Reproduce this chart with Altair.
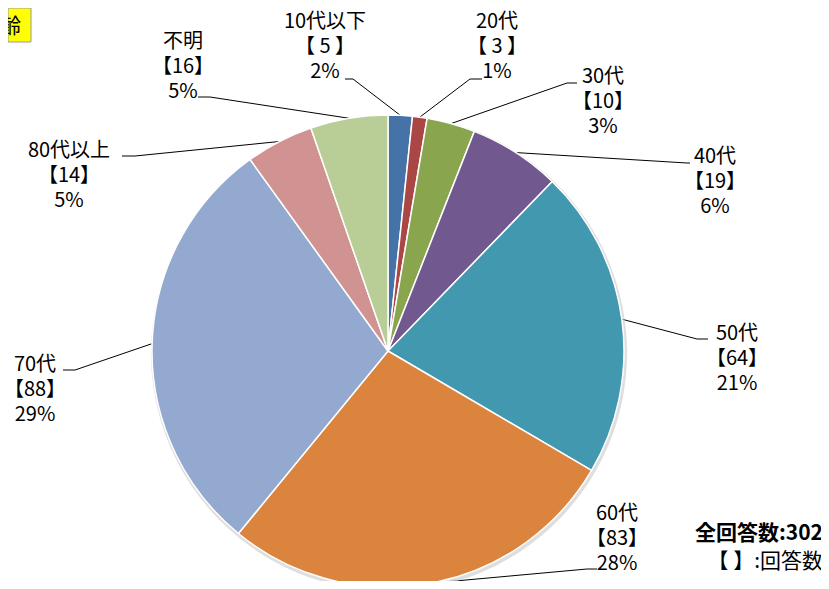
import math
import altair as alt
import pandas as pd

# ---- data ----
categories = ["10代以下", "20代", "30代", "40代", "50代", "60代", "70代", "80代以上", "不明"]
counts = [5, 3, 10, 19, 64, 83, 88, 14, 16]
pct_labels = ["2%", "1%", "3%", "6%", "21%", "28%", "29%", "5%", "5%"]
count_labels = ["【 5 】", "【 3 】", "【10】", "【19】", "【64】", "【83】", "【88】", "【14】", "【16】"]
total_label = "全回答数:302"
note_label = "【 】:回答数"
title_label = "年齢"

# ---- style / layout ----
colors = ["#4572A7", "#AA4643", "#89A54E", "#71588F", "#4198AF",
          "#DB843D", "#93A9CF", "#D19392", "#B9CD96"]
W, H = 813, 573
CX, CY, R = 380, 343, 236
FONT = "Noto Sans CJK JP"
# label block centre x, first-line y (chart pixel coords)
label_pos = [(317, 14), (489, 14), (595, 69), (707, 149), (729, 326),
             (609, 506), (27, 357), (61, 143), (175, 34)]
# leader line bend and end points
leader_pts = [((345, 71), (337, 71)), ((462, 71), (474, 71)), ((559, 75), (569, 75)),
              ((679, 155), (682, 155)), ((689, 331), (700, 331)), ((579, 561), (589, 561)),
              ((67, 362), (55, 362)), ((127, 148), (114, 148)), ((202, 89), (190, 89))]

total = sum(counts)
rows, lines = [], []
cum = 0
for i, (c, n) in enumerate(zip(categories, counts)):
    mid = (cum + n / 2) / total * 2 * math.pi
    cum += n
    lx, ly = label_pos[i]
    rows.append({"cat": c, "n": n, "idx": i,
                 "label": f"{c}\n{count_labels[i]}\n{pct_labels[i]}",
                 "lx": lx, "ly": ly})
    sx = CX + R * math.sin(mid)
    sy = CY - R * math.cos(mid)
    (bx, by), (ex, ey) = leader_pts[i]
    for k, (px, py) in enumerate([(sx, sy), (bx, by), (ex, ey)]):
        lines.append({"cat": c, "k": k, "px": px, "py": py})

df = pd.DataFrame(rows)
ldf = pd.DataFrame(lines)

xs = alt.Scale(domain=[0, W], nice=False, zero=False)
ys = alt.Scale(domain=[0, H], nice=False, zero=False, reverse=True)

shadow = alt.Chart(df.iloc[[0]]).mark_arc(
    radius=R + 2, theta=0, theta2=2 * math.pi, fill="#c8c8c8", opacity=0.6
).encode(x=alt.value(CX + 1), y=alt.value(CY + 2))

pie = alt.Chart(df).mark_arc(radius=R, stroke="white", strokeWidth=1.5).encode(
    theta=alt.Theta("n:Q", stack=True),
    color=alt.Color("cat:N", scale=alt.Scale(domain=categories, range=colors), legend=None),
    order=alt.Order("idx:Q"),
    x=alt.value(CX), y=alt.value(CY),
)

leaders = alt.Chart(ldf).mark_line(color="black", strokeWidth=1).encode(
    x=alt.X("px:Q", scale=xs, axis=None),
    y=alt.Y("py:Q", scale=ys, axis=None),
    detail="cat:N",
    order="k:Q",
)

labels = alt.Chart(df).mark_text(
    font=FONT, fontSize=20, lineBreak="\n", lineHeight=25,
    align="center", baseline="middle", color="black"
).encode(
    x=alt.X("lx:Q", scale=xs, axis=None),
    y=alt.Y("ly:Q", scale=ys, axis=None),
    text="label:N",
)

notes_df = pd.DataFrame({"t": [total_label, note_label], "x": [815, 815], "y": [526, 554]})
note1 = alt.Chart(notes_df.iloc[[0]]).mark_text(
    font=FONT, fontSize=21, fontWeight="bold", align="right", baseline="middle", color="black"
).encode(x=alt.X("x:Q", scale=xs, axis=None), y=alt.Y("y:Q", scale=ys, axis=None), text="t:N")
note2 = alt.Chart(notes_df.iloc[[1]]).mark_text(
    font=FONT, fontSize=21, align="right", baseline="middle", color="black"
).encode(x=alt.X("x:Q", scale=xs, axis=None), y=alt.Y("y:Q", scale=ys, axis=None), text="t:N")

box_df = pd.DataFrame({"x": [0], "x2": [23], "y": [0], "y2": [34], "t": [title_label], "tx": [13], "ty": [19]})
box = alt.Chart(box_df).mark_rect(fill="#FFFF00", stroke="#9a9a9a", strokeWidth=1).encode(
    x=alt.X("x:Q", scale=xs, axis=None), x2="x2:Q",
    y=alt.Y("y:Q", scale=ys, axis=None), y2="y2:Q",
)
box_text = alt.Chart(box_df).mark_text(
    font=FONT, fontSize=21, align="right", baseline="middle", color="black"
).encode(x=alt.X("tx:Q", scale=xs, axis=None), y=alt.Y("ty:Q", scale=ys, axis=None), text="t:N")

chart = alt.layer(box, box_text, leaders, shadow, pie, labels, note1, note2).properties(
    width=W, height=H, padding=0, autosize=alt.AutoSizeParams(type="none")
).configure_view(stroke=None)

chart.save("out.html", embed_options={"renderer": "svg", "actions": False})
